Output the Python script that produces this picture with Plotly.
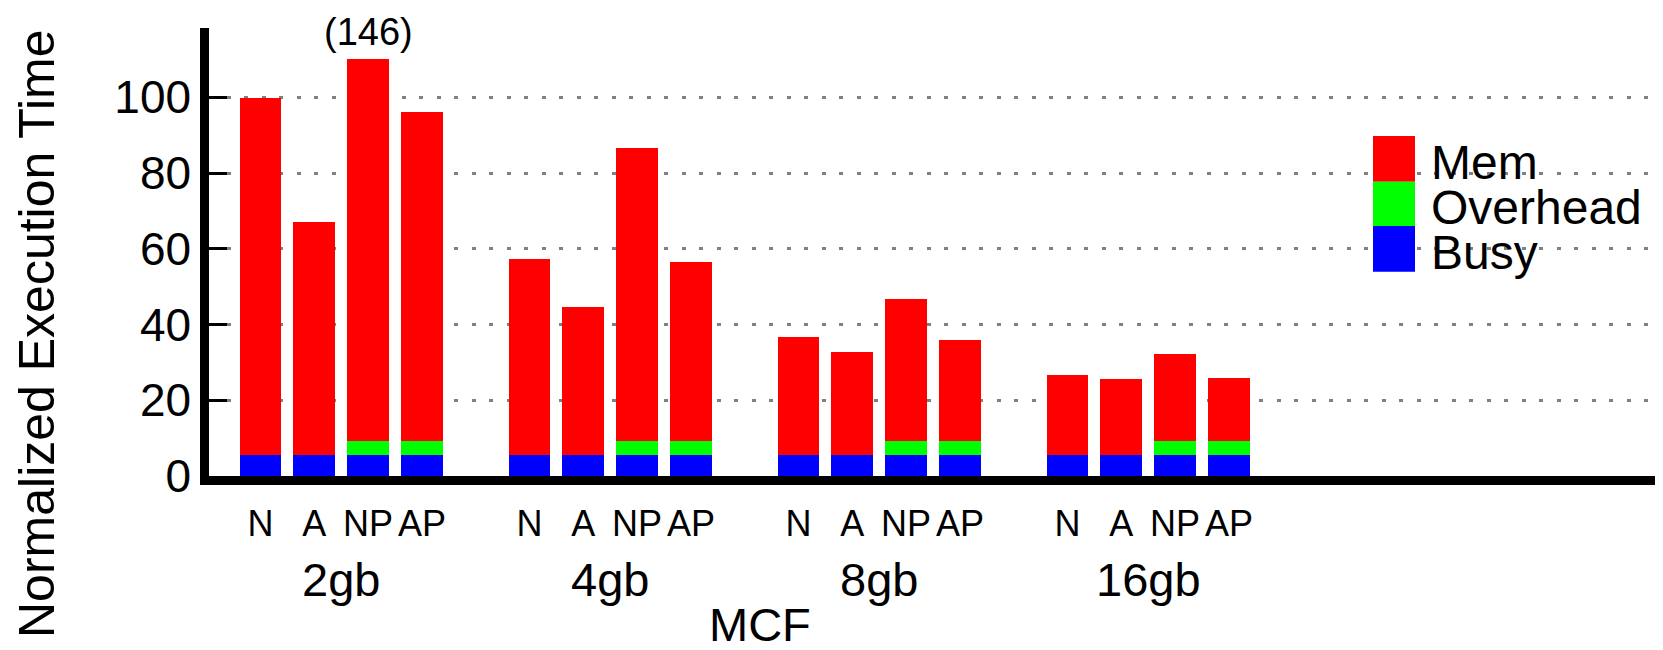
import plotly.graph_objects as go

# ---------------- data ----------------
groups = ["2gb", "4gb", "8gb", "16gb"]
configs = ["N", "A", "NP", "AP"]
bench = "MCF"

# values per bar, ordered group by group (N, A, NP, AP)
busy = [5.5, 5.5, 5.5, 5.5,
        5.5, 5.5, 5.5, 5.5,
        5.5, 5.5, 5.5, 5.5,
        5.5, 5.5, 5.5, 5.5]
overhead = [0, 0, 3.7, 3.7,
            0, 0, 3.7, 3.7,
            0, 0, 3.7, 3.7,
            0, 0, 3.7, 3.7]
mem = [94.3, 61.5, 100.8, 87.0,
       51.9, 39.0, 77.5, 47.3,
       31.3, 27.3, 37.6, 26.6,
       21.1, 20.0, 23.0, 16.8]
# value of the clipped bar (2gb / NP)
clipped_label = "(146)"
clipped_index = 2

ytick_vals = [0, 20, 40, 60, 80, 100]
legend_names = ["Mem", "Overhead", "Busy"]
colors = {"Mem": "#ff0000", "Overhead": "#00ff00", "Busy": "#0000ff"}

# ---------------- layout geometry (pixels) ----------------
WIDTH, HEIGHT = 1663, 650
PL, PR, PT, PB = 209, 1655, 28, 476
PW, PH = PR - PL, PB - PT

def px_x(x):
    return (x - PL) / PW

def px_y(y):
    return (PB - y) / PH

FONT = "Liberation Sans, Arial, Helvetica, sans-serif"

# bar positions: 4 bars per group, one empty slot between groups
slots_per_group = len(configs) + 1
xpos = [g * slots_per_group + i for g in range(len(groups)) for i in range(len(configs))]
xlabels = [c for _ in groups for c in configs]

fig = go.Figure()
for name, vals in [("Busy", busy), ("Overhead", overhead), ("Mem", mem)]:
    fig.add_trace(go.Bar(
        x=xpos, y=vals, name=name, width=0.78,
        marker=dict(color=colors[name], line=dict(width=0)),
        showlegend=False,
    ))

annotations = []
# group labels
for g, gname in enumerate(groups):
    annotations.append(dict(
        x=g * slots_per_group + (len(configs) - 1) / 2, xref="x",
        y=px_y(579), yref="paper", text=gname, showarrow=False,
        xanchor="center", yanchor="middle",
        font=dict(family=FONT, size=47, color="black")))
# benchmark label
annotations.append(dict(
    x=px_x(760), xref="paper", y=px_y(624), yref="paper", text=bench,
    showarrow=False, xanchor="center", yanchor="middle",
    font=dict(family=FONT, size=47, color="black")))
# y title
annotations.append(dict(
    x=px_x(37), xref="paper", y=px_y(334), yref="paper",
    text="Normalized Execution Time", textangle=-90, showarrow=False,
    xanchor="center", yanchor="middle",
    font=dict(family=FONT, size=50, color="black")))
# clipped bar label
annotations.append(dict(
    x=xpos[clipped_index], xref="x", y=px_y(32), yref="paper",
    text=clipped_label, showarrow=False, xanchor="center", yanchor="middle",
    font=dict(family=FONT, size=38, color="black")))

# custom legend: stacked big swatches + labels
shapes = []
sw_x0, sw_x1 = 1373, 1415
sw_y = [136, 181.7, 226, 271.7]
for k, name in enumerate(legend_names):
    shapes.append(dict(
        type="rect", xref="paper", yref="paper",
        x0=px_x(sw_x0), x1=px_x(sw_x1), y0=px_y(sw_y[k + 1]), y1=px_y(sw_y[k]),
        fillcolor=colors[name], line=dict(width=0), layer="above"))
    annotations.append(dict(
        x=px_x(1429), xref="paper", y=px_y((sw_y[k] + sw_y[k + 1]) / 2 + 4), yref="paper",
        text=name, showarrow=False, xanchor="left", yanchor="middle",
        font=dict(family=FONT, size=48, color="black")))

slot_px = 53.8
x0_px = 260.5
xr = [(PL - x0_px) / slot_px, (PR - x0_px) / slot_px]
ppu = (PB - 97.3) / 100.0
yr = [0, (PB - PT) / ppu]

fig.update_layout(
    width=WIDTH, height=HEIGHT,
    margin=dict(l=PL, r=WIDTH - PR, t=PT, b=HEIGHT - PB, pad=0),
    paper_bgcolor="white", plot_bgcolor="white",
    barmode="stack", bargap=0,
    font=dict(family=FONT, color="black"),
    annotations=annotations, shapes=shapes,
    xaxis=dict(
        range=xr, tickmode="array", tickvals=xpos, ticktext=xlabels,
        ticks="", showgrid=False, zeroline=False,
        showline=True, linecolor="black", linewidth=8.5,
        ticklabelstandoff=8,
        tickfont=dict(family=FONT, size=36, color="black"),
    ),
    yaxis=dict(
        range=yr, tickmode="array", tickvals=ytick_vals,
        ticks="inside", ticklen=18, tickwidth=2.5, tickcolor="black",
        showline=True, linecolor="black", linewidth=8.5,
        showgrid=True, gridcolor="#808080", gridwidth=3, griddash="4px,13.5px",
        zeroline=False,
        tickfont=dict(family=FONT, size=46, color="black"),
    ),
)

fig.write_html("out.html")
